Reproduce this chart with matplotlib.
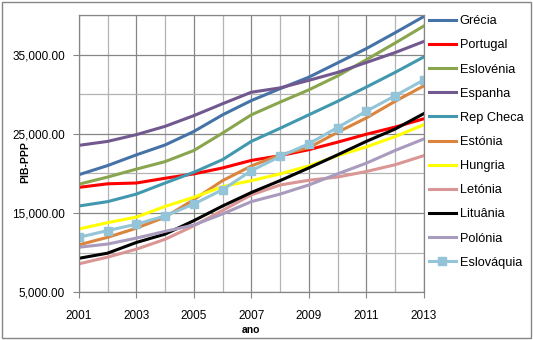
import matplotlib
matplotlib.use("Agg")
import matplotlib.pyplot as plt
from matplotlib.ticker import FuncFormatter
from matplotlib.patches import Rectangle

plt.rcParams['font.family'] = ['Liberation Sans', 'DejaVu Sans']

# anos
anos = list(range(2001, 2014))
anos_rotulo = [2001, 2003, 2005, 2007, 2009, 2011, 2013]

# PIB-PPP por país
grecia     = [19850, 21000, 22350, 23600, 25300, 27400, 29200, 30700, 32150, 33950, 35750, 37750, 39800]
portugal   = [18250, 18700, 18800, 19400, 19950, 20700, 21650, 22250, 23000, 23950, 24950, 25850, 26900]
eslovenia  = [18650, 19550, 20550, 21500, 22900, 25100, 27400, 29000, 30550, 32300, 34350, 36450, 38600]
espanha    = [23550, 24050, 24900, 25950, 27300, 28800, 30250, 30800, 31750, 32750, 34000, 35250, 36650]
rep_checa  = [15900, 16450, 17400, 18800, 20150, 21750, 24050, 25700, 27400, 29100, 30900, 32750, 34700]
estonia    = [11000, 11950, 13100, 14500, 16700, 19100, 20950, 22350, 23250, 25200, 27000, 29100, 31050]
hungria    = [13000, 13800, 14500, 15850, 17000, 18350, 19100, 19950, 20950, 22250, 23350, 24650, 26150]
letonia    = [8600, 9450, 10450, 11700, 13400, 15350, 17300, 18550, 19150, 19550, 20250, 21100, 22250]
lituania   = [9300, 9950, 11300, 12350, 14050, 15900, 17600, 19100, 20700, 22350, 24050, 25600, 27550]
polonia    = [10700, 11100, 11850, 12700, 13500, 14900, 16450, 17400, 18550, 19950, 21300, 22900, 24350]
eslovaquia = [11950, 12800, 13600, 14650, 16150, 17950, 20350, 22150, 23750, 25800, 27850, 29800, 31800]

nomes = ['Grécia', 'Portugal', 'Eslovénia', 'Espanha', 'Rep Checa', 'Estónia',
         'Hungria', 'Letónia', 'Lituânia', 'Polónia', 'Eslováquia']
series = [grecia, portugal, eslovenia, espanha, rep_checa, estonia,
          hungria, letonia, lituania, polonia, eslovaquia]
cores = ['#4572A7', '#FF0000', '#89A54E', '#71588F', '#4198AF', '#DB843D',
         '#FFFF00', '#D99694', '#000000', '#A99BBD', '#93C4D8']

fig = plt.figure(figsize=(5.33, 3.4), dpi=100)
ax = fig.add_axes([0.148, 0.14, 0.647, 0.816])

for nome, vals, cor in zip(nomes, series, cores):
    if nome == 'Eslováquia':
        ax.plot(anos, vals, color=cor, lw=2.2, marker='s', ms=5.5, label=nome)
    else:
        ax.plot(anos, vals, color=cor, lw=2.2, label=nome)

ax.set_xlim(2001, 2013)
ax.set_ylim(5000, 40000)
ax.set_xticks(anos_rotulo)
ax.set_xticks(anos, minor=True)
ax.set_yticks([5000, 15000, 25000, 35000])
ax.set_yticks([10000, 20000, 30000, 40000], minor=True)
ax.yaxis.set_major_formatter(FuncFormatter(lambda v, p: f"{v:,.2f}"))

ax.grid(True, which='major', color='#868686', lw=0.9)
ax.grid(True, which='minor', color='#B3B3B3', lw=0.9)
ax.set_axisbelow(True)
for s in ax.spines.values():
    s.set_color('#868686')
    s.set_linewidth(0.9)

ax.tick_params(which='major', length=4, color='#868686', labelsize=8.5)
ax.tick_params(axis='x', which='major', pad=9)
ax.tick_params(axis='y', which='major', pad=6)
ax.tick_params(which='minor', length=0)

ax.set_xlabel('ano', fontsize=7.5, fontweight='bold', labelpad=2)
ax.set_ylabel('PIB-PPP', fontsize=7.5, fontweight='bold', labelpad=0)
ax.yaxis.set_label_coords(-0.14, 0.47)

fig.legend(loc='upper left', bbox_to_anchor=(0.795, 0.97), frameon=False,
           fontsize=9.2, handlelength=2.1, handletextpad=0.3, labelspacing=0.95,
           borderaxespad=0)

fig.patches.append(Rectangle((0.004, 0.005), 0.992, 0.99, transform=fig.transFigure,
                             fill=False, edgecolor='#868686', lw=1))

fig.savefig('out.png', dpi=100)
